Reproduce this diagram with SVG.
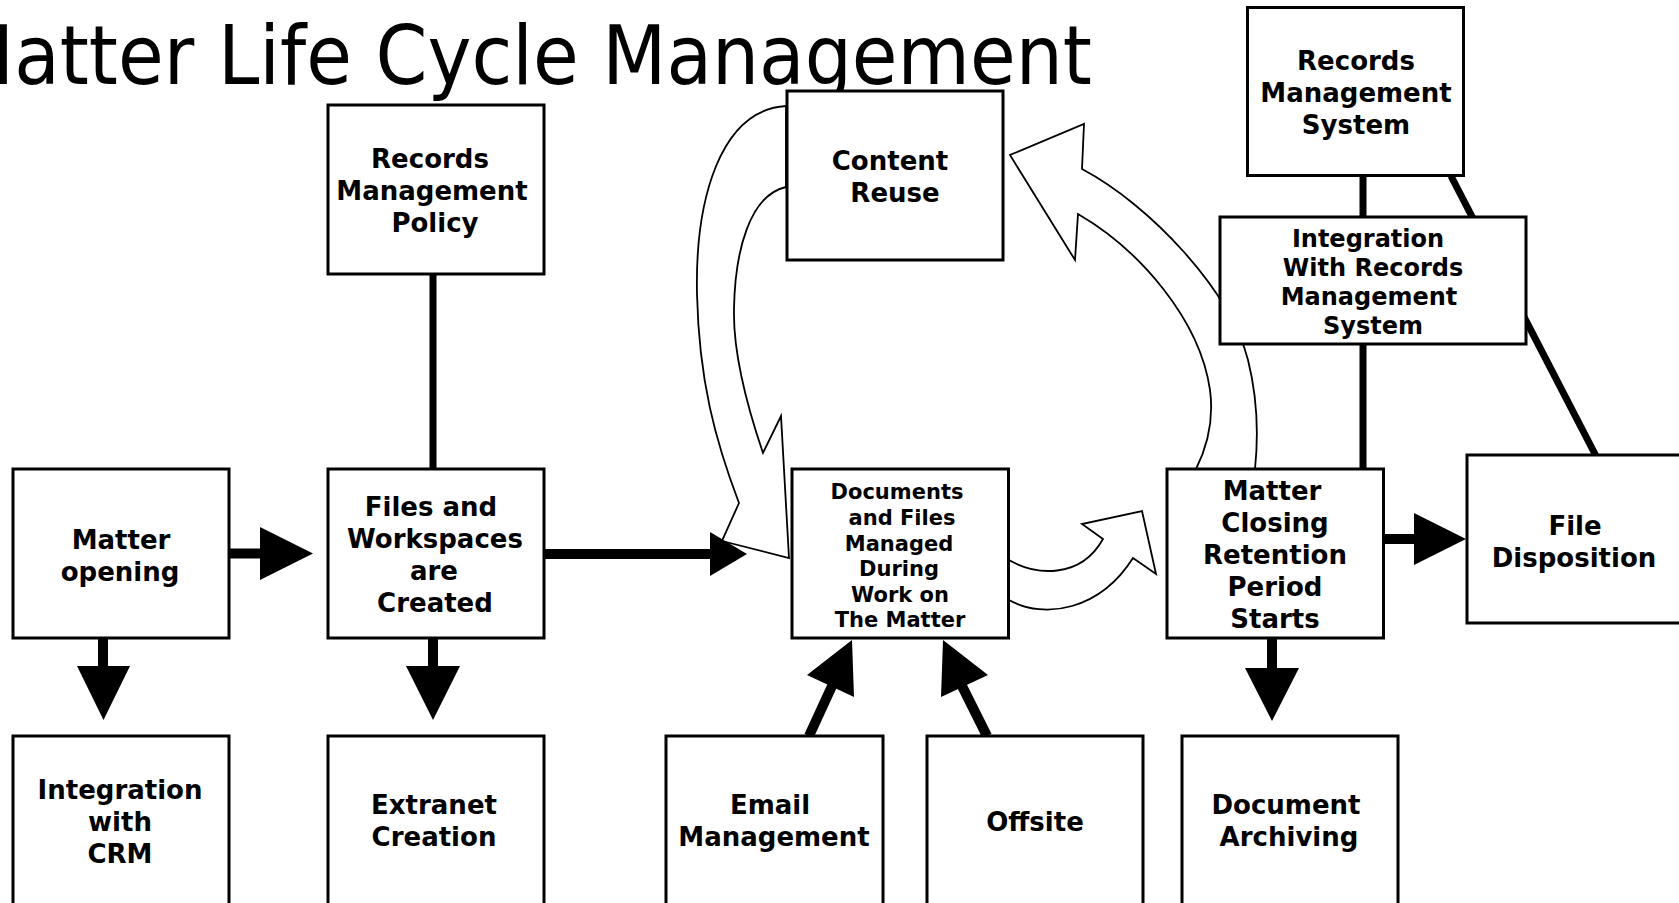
<svg xmlns="http://www.w3.org/2000/svg" width="1679" height="903" viewBox="0 0 1679 903">
<style>
.b{fill:#fff;stroke:#000;stroke-width:3}
.t{font-family:"DejaVu Sans","Liberation Sans",Verdana,sans-serif;font-weight:bold;font-size:26px;text-anchor:middle;fill:#000}
.s{font-size:24px}
.xs{font-size:21px}
.ttl{font-family:"DejaVu Sans","Liberation Sans",Verdana,sans-serif;font-size:82px;fill:#000}
.ln{stroke:#000;stroke-width:7;fill:none}
.sh{stroke:#000;stroke-width:10;fill:none}
.hd{fill:#000;stroke:none}
.hol{fill:#fff;stroke:#000;stroke-width:1.8;stroke-linejoin:miter}
</style>
<rect x="0" y="0" width="1679" height="903" fill="#fff"/>
<text class="ttl" x="-50" y="84" textLength="1142" lengthAdjust="spacingAndGlyphs">Matter Life Cycle Management</text>

<g id="connectors">
  <!-- hollow curved arrows -->
  <path class="hol" d="M 786 106 C 720 110, 695 200, 697 294 C 699 380, 715 440, 739 503 L 722 541 L 789 558 L 781 416 L 763 453 C 745 400, 733 350, 734 309 C 735 250, 750 195, 786 187 Z"/>
  <path class="hol" d="M 1255 469 C 1258 440, 1258 400, 1248 360 C 1230 290, 1150 205, 1082 169 L 1084 124 L 1010 155 L 1075 260 L 1078 214 C 1140 250, 1200 320, 1210 390 C 1214 420, 1208 445, 1196 469 Z"/>
  <path class="hol" d="M 1009 560 C 1035 575, 1080 580, 1103 539 L 1082 524 L 1142 511 L 1156 574 L 1133 558 C 1100 610, 1045 620, 1009 600 Z"/>
  <!-- plain lines -->
  <line class="ln" x1="433" y1="274" x2="433" y2="469"/>
  <line class="ln" x1="1363" y1="176" x2="1363" y2="469"/>
  <line class="ln" x1="1451" y1="176" x2="1596" y2="456"/>
  <!-- arrows -->
  <line class="sh" x1="229" y1="553.5" x2="262" y2="553.5"/>
  <polygon class="hd" points="260,527 313,553.5 260,580"/>
  <line class="sh" x1="544" y1="554" x2="712" y2="554"/>
  <polygon class="hd" points="710,532 747,554 710,576"/>
  <line class="sh" x1="103" y1="638" x2="103" y2="668"/>
  <polygon class="hd" points="77,666 130,666 103.5,720"/>
  <line class="sh" x1="433" y1="638" x2="433" y2="668"/>
  <polygon class="hd" points="406,666 460,666 433,720"/>
  <line class="sh" x1="1272" y1="638" x2="1272" y2="670"/>
  <polygon class="hd" points="1245,668 1299,668 1272,721"/>
  <line class="sh" x1="1383" y1="539" x2="1416" y2="539"/>
  <polygon class="hd" points="1414,513 1466,539 1414,565"/>
  <line class="sh" x1="809" y1="736" x2="832" y2="686"/>
  <polygon class="hd" points="852,640 807,675 854,697"/>
  <line class="sh" x1="987" y1="736" x2="962" y2="686"/>
  <polygon class="hd" points="943,640 988,675 941,697"/>
</g>

<g id="rm-policy">
  <rect class="b" x="328" y="105" width="216" height="169"/>
  <text class="t" x="430" y="168">Records</text>
  <text class="t" x="432" y="200">Management</text>
  <text class="t" x="435" y="232">Policy</text>
</g>
<g id="content-reuse">
  <rect class="b" x="787" y="91" width="216" height="169"/>
  <text class="t" x="890" y="170">Content</text>
  <text class="t" x="895" y="202">Reuse</text>
</g>
<g id="rm-system">
  <rect class="b" x="1247.5" y="7.5" width="216" height="168"/>
  <text class="t" x="1356" y="70">Records</text>
  <text class="t" x="1356" y="102">Management</text>
  <text class="t" x="1356" y="134">System</text>
</g>
<g id="integration-rms">
  <rect class="b" x="1220" y="217" width="306" height="127"/>
  <text class="t s" x="1368" y="247">Integration</text>
  <text class="t s" x="1373" y="276">With Records</text>
  <text class="t s" x="1369" y="305">Management</text>
  <text class="t s" x="1373" y="334">System</text>
</g>
<g id="matter-opening">
  <rect class="b" x="13" y="469" width="216" height="169"/>
  <text class="t" x="121" y="549">Matter</text>
  <text class="t" x="120" y="581">opening</text>
</g>
<g id="files-workspaces">
  <rect class="b" x="328" y="469" width="216" height="169"/>
  <text class="t" x="431" y="516">Files and</text>
  <text class="t" x="435" y="548">Workspaces</text>
  <text class="t" x="434" y="580">are</text>
  <text class="t" x="435" y="612">Created</text>
</g>
<g id="documents-files">
  <rect class="b" x="792" y="469" width="216.5" height="169"/>
  <text class="t xs" x="897" y="499">Documents</text>
  <text class="t xs" x="902" y="525">and Files</text>
  <text class="t xs" x="899" y="550.5">Managed</text>
  <text class="t xs" x="899" y="576">During</text>
  <text class="t xs" x="900" y="602">Work on</text>
  <text class="t xs" x="900" y="627">The Matter</text>
</g>
<g id="matter-closing">
  <rect class="b" x="1167" y="469" width="216.5" height="169"/>
  <text class="t" x="1272" y="500">Matter</text>
  <text class="t" x="1275" y="532">Closing</text>
  <text class="t" x="1275" y="564">Retention</text>
  <text class="t" x="1275" y="596">Period</text>
  <text class="t" x="1275" y="628">Starts</text>
</g>
<g id="file-disposition">
  <rect class="b" x="1467" y="455" width="216" height="168"/>
  <text class="t" x="1575" y="535">File</text>
  <text class="t" x="1574" y="567">Disposition</text>
</g>
<g id="integration-crm">
  <rect class="b" x="13" y="736" width="216" height="169"/>
  <text class="t" x="120" y="799">Integration</text>
  <text class="t" x="120" y="831">with</text>
  <text class="t" x="120" y="863">CRM</text>
</g>
<g id="extranet-creation">
  <rect class="b" x="328" y="736" width="216" height="169"/>
  <text class="t" x="434" y="814">Extranet</text>
  <text class="t" x="434" y="846">Creation</text>
</g>
<g id="email-management">
  <rect class="b" x="666" y="736" width="217" height="169"/>
  <text class="t" x="770" y="814">Email</text>
  <text class="t" x="774" y="846">Management</text>
</g>
<g id="offsite">
  <rect class="b" x="927" y="736" width="216" height="169"/>
  <text class="t" x="1035" y="831">Offsite</text>
</g>
<g id="document-archiving">
  <rect class="b" x="1182" y="736" width="216" height="169"/>
  <text class="t" x="1286" y="814">Document</text>
  <text class="t" x="1289" y="846">Archiving</text>
</g>
</svg>
